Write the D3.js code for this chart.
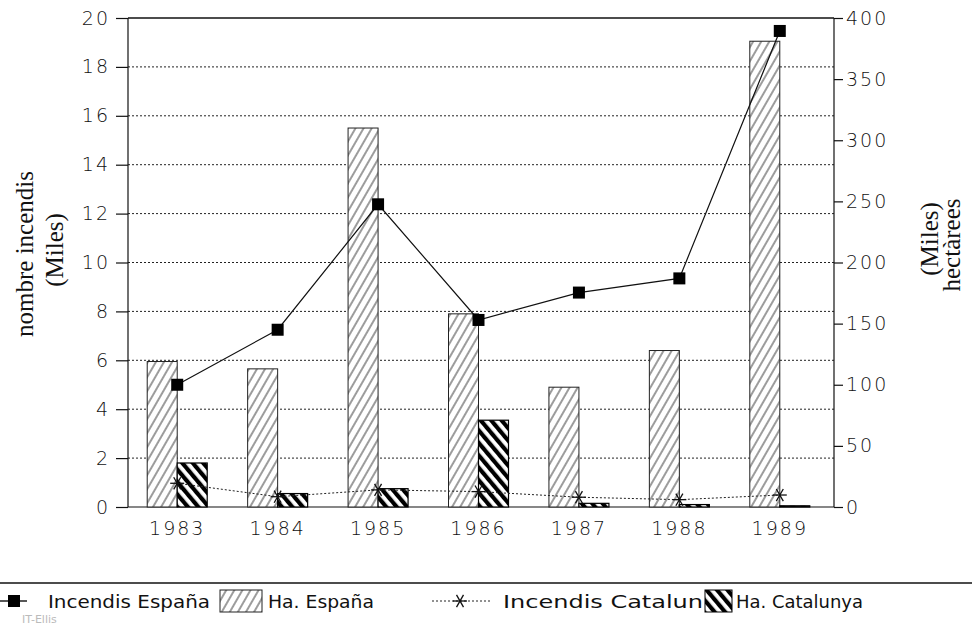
<!DOCTYPE html>
<head>
	<meta charset="utf-8">
	<script src="https://d3js.org/d3.v7.min.js"></script>
	<style>
		body { margin: 0; background: #fff; }
		svg { display: block; }
		.tick-label { font-family: 'DejaVu Sans', sans-serif; font-weight: 300; font-size: 19px; letter-spacing: 2px; fill: #111; }
		.axis-title { font-family: 'Liberation Serif', 'Times New Roman', serif; font-size: 25px; fill: #111; }
		.legend-text { font-family: 'DejaVu Sans Condensed', 'DejaVu Sans', sans-serif; font-stretch: condensed; font-weight: 300; font-size: 18px; fill: #111; }
	</style>
</head>
<body>
<svg width="972" height="629"></svg>
<script>
	// data
	var years = ['1983', '1984', '1985', '1986', '1987', '1988', '1989'];
	var haEspana = [119, 113, 310, 158, 98, 128, 381];      // thousand ha (right axis)
	var haCatalunya = [36, 11, 15, 71, 3, 2, 1];            // thousand ha (right axis)
	var incEspana = [5.0, 7.25, 12.38, 7.65, 8.77, 9.35, 19.47]; // thousand fires (left axis)
	var incCatalunya = [0.97, 0.42, 0.7, 0.63, 0.4, 0.3, 0.49];  // thousand fires (left axis)
	var leftTicks = [0, 2, 4, 6, 8, 10, 12, 14, 16, 18, 20];
	var rightTicks = [0, 50, 100, 150, 200, 250, 300, 350, 400];

	var plotL = 128, plotR = 834, plotT = 18, plotB = 507, barW = 30;

	var svg = d3.select('svg');

	var x = d3.scaleBand().domain(years).range([127, 830]);
	var y = d3.scaleLinear().domain([0, 20]).range([plotB, plotT]);
	var yR = d3.scaleLinear().domain([0, 400]).range([plotB, plotT]);
	var cx = function (d, i) { return x(years[i]) + x.bandwidth() / 2; };

	/* --------- PATTERNS ---------*/
	var defs = svg.append('defs');
	var p1 = defs.append('pattern')
		.attr('id', 'hatchEsp')
		.attr('patternUnits', 'userSpaceOnUse')
		.attr('width', 7).attr('height', 7)
		.attr('patternTransform', 'rotate(30)');
	p1.append('rect').attr('width', 7).attr('height', 7).attr('fill', '#fff');
	p1.append('line').attr('x1', 1).attr('y1', 0).attr('x2', 1).attr('y2', 7)
		.attr('stroke', '#222').attr('stroke-width', 0.9);

	var p2 = defs.append('pattern')
		.attr('id', 'hatchCat')
		.attr('patternUnits', 'userSpaceOnUse')
		.attr('width', 8).attr('height', 8)
		.attr('patternTransform', 'rotate(-40)');
	p2.append('rect').attr('width', 8).attr('height', 8).attr('fill', '#fff');
	p2.append('rect').attr('width', 4.2).attr('height', 8).attr('fill', '#000');

	/* --------- GRID ---------*/
	svg.append('g').selectAll('line.grid')
		.data(leftTicks.filter(function (d) { return d > 0 && d < 20; }))
		.enter().append('line')
		.attr('class', 'grid')
		.attr('x1', plotL).attr('x2', plotR)
		.attr('y1', function (d) { return y(d); })
		.attr('y2', function (d) { return y(d); })
		.attr('stroke', '#222').attr('stroke-width', 1)
		.attr('stroke-dasharray', '2,2');

	/* --------- FRAME & AXES ---------*/
	var frame = svg.append('g').attr('stroke', '#111').attr('stroke-width', 1.2);
	frame.append('line').attr('x1', plotL).attr('x2', plotR).attr('y1', plotT).attr('y2', plotT).attr('stroke-width', 1.6);
	frame.append('line').attr('x1', plotL).attr('x2', plotL).attr('y1', plotT).attr('y2', plotB);
	frame.append('line').attr('x1', plotR).attr('x2', plotR).attr('y1', plotT).attr('y2', plotB);
	frame.append('line').attr('x1', plotL).attr('x2', plotR).attr('y1', plotB).attr('y2', plotB);

	var yAxisL = d3.axisLeft(y).tickValues(leftTicks).tickSize(12).tickPadding(6);
	var gL = svg.append('g').attr('transform', 'translate(' + plotL + ',0)').call(yAxisL);
	var yAxisR = d3.axisRight(yR).tickValues(rightTicks).tickSize(9).tickPadding(3);
	var gR = svg.append('g').attr('transform', 'translate(' + plotR + ',0)').call(yAxisR);
	var xAxis = d3.axisBottom(x).tickSize(0).tickPadding(14);
	var gX = svg.append('g').attr('transform', 'translate(0,' + plotB + ')').call(xAxis);

	[gL, gR, gX].forEach(function (g) {
		g.select('.domain').remove();
		g.selectAll('.tick line').attr('stroke', '#111').attr('stroke-width', 1.2);
		g.selectAll('.tick text').attr('class', 'tick-label').attr('font-size', null).attr('font-family', null).attr('fill', null);
	});
	gX.selectAll('.tick text').attr('dy', '0.75em');

	/* --------- BARS ---------*/
	svg.append('g').selectAll('rect.esp')
		.data(haEspana)
		.enter().append('rect')
		.attr('class', 'esp')
		.attr('x', function (d, i) { return cx(d, i) - barW; })
		.attr('y', function (d) { return yR(d); })
		.attr('width', barW)
		.attr('height', function (d) { return plotB - yR(d); })
		.attr('fill', 'url(#hatchEsp)')
		.attr('stroke', '#222').attr('stroke-width', 1);

	svg.append('g').selectAll('rect.cat')
		.data(haCatalunya)
		.enter().append('rect')
		.attr('class', 'cat')
		.attr('x', function (d, i) { return cx(d, i); })
		.attr('y', function (d) { return yR(d); })
		.attr('width', barW)
		.attr('height', function (d) { return plotB - yR(d); })
		.attr('fill', 'url(#hatchCat)')
		.attr('stroke', '#000').attr('stroke-width', 1.2);

	/* --------- LINES ---------*/
	var line = d3.line()
		.x(function (d, i) { return cx(d, i); })
		.y(function (d) { return y(d); });

	svg.append('path').datum(incEspana)
		.attr('d', line)
		.attr('fill', 'none').attr('stroke', '#111').attr('stroke-width', 1.2);

	svg.append('g').selectAll('rect.sq')
		.data(incEspana)
		.enter().append('rect')
		.attr('class', 'sq')
		.attr('x', function (d, i) { return cx(d, i) - 6; })
		.attr('y', function (d) { return y(d) - 6; })
		.attr('width', 12).attr('height', 12)
		.attr('fill', '#000');

	svg.append('path').datum(incCatalunya)
		.attr('d', line)
		.attr('fill', 'none').attr('stroke', '#222').attr('stroke-width', 1)
		.attr('stroke-dasharray', '2,2');

	function asterisk(g, px, py) {
		var r = 7;
		[0, 60, 120].forEach(function (a) {
			var rad = a * Math.PI / 180;
			g.append('line')
				.attr('x1', px - r * Math.cos(rad)).attr('y1', py - r * Math.sin(rad))
				.attr('x2', px + r * Math.cos(rad)).attr('y2', py + r * Math.sin(rad))
				.attr('stroke', '#111').attr('stroke-width', 1.3);
		});
	}
	var stars = svg.append('g');
	incCatalunya.forEach(function (d, i) { asterisk(stars, cx(d, i), y(d)); });

	/* --------- AXIS TITLES ---------*/
	svg.append('text').attr('class', 'axis-title')
		.attr('transform', 'translate(33,254) rotate(-90)')
		.attr('text-anchor', 'middle').text('nombre incendis');
	svg.append('text').attr('class', 'axis-title')
		.attr('transform', 'translate(63,250) rotate(-90)')
		.attr('text-anchor', 'middle').text('(Miles)');
	svg.append('text').attr('class', 'axis-title')
		.attr('transform', 'translate(938,239) rotate(-90)')
		.attr('text-anchor', 'middle').text('(Miles)');
	svg.append('text').attr('class', 'axis-title')
		.attr('transform', 'translate(960,245) rotate(-90)')
		.attr('text-anchor', 'middle').text('hectàrees');

	/* --------- LEGEND ---------*/
	svg.append('line').attr('x1', 0).attr('x2', 972).attr('y1', 583).attr('y2', 583)
		.attr('stroke', '#111').attr('stroke-width', 1.6);

	var lg = svg.append('g');
	var ly = 601;
	lg.append('line').attr('x1', 0).attr('x2', 27).attr('y1', ly).attr('y2', ly).attr('stroke', '#111').attr('stroke-width', 1.4);
	lg.append('rect').attr('x', 8).attr('y', ly - 6).attr('width', 12).attr('height', 12).attr('fill', '#000');
	lg.append('text').attr('class', 'legend-text').attr('x', 48).attr('y', ly + 7)
		.attr('textLength', 162).attr('lengthAdjust', 'spacingAndGlyphs').text('Incendis España');
	lg.append('rect').attr('x', 220).attr('y', ly - 11).attr('width', 42).attr('height', 22)
		.attr('fill', 'url(#hatchEsp)').attr('stroke', '#222');
	lg.append('text').attr('class', 'legend-text').attr('x', 268).attr('y', ly + 7)
		.attr('textLength', 106).attr('lengthAdjust', 'spacingAndGlyphs').text('Ha. España');
	lg.append('line').attr('x1', 432).attr('x2', 490).attr('y1', ly).attr('y2', ly)
		.attr('stroke', '#222').attr('stroke-dasharray', '2,2');
	asterisk(lg, 460, ly);
	lg.append('text').attr('class', 'legend-text').attr('x', 503).attr('y', ly + 7)
		.attr('textLength', 200).attr('lengthAdjust', 'spacingAndGlyphs').text('Incendis Catalun');
	lg.append('rect').attr('x', 705).attr('y', ly - 11).attr('width', 27).attr('height', 22)
		.attr('fill', 'url(#hatchCat)').attr('stroke', '#000');
	lg.append('text').attr('class', 'legend-text').attr('x', 736).attr('y', ly + 7)
		.attr('textLength', 127).attr('lengthAdjust', 'spacingAndGlyphs').text('Ha. Catalunya');

	svg.append('text').attr('x', 22).attr('y', 623)
		.attr('font-family', 'DejaVu Sans, sans-serif').attr('font-size', 11)
		.attr('fill', '#bbb').text('IT-Ellis');
</script>
</body>
